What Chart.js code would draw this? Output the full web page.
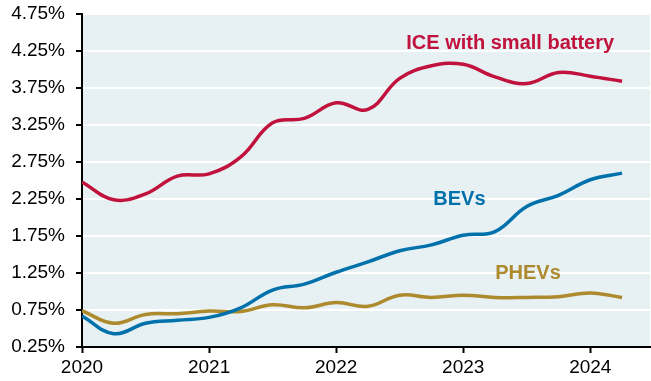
<!DOCTYPE html>
<html>
<head>
<meta charset="utf-8">
<script src="https://cdn.jsdelivr.net/npm/chart.js@4"></script>
<style>
  html, body { margin: 0; padding: 0; background: #fff; }
  #wrap { width: 651px; height: 381px; }
</style>
</head>
<body>
<div id="wrap"><canvas id="shareChart"></canvas></div>
<script>
// quarters (year fraction) and series values, % share
const quarters = [2020, 2020.25, 2020.5, 2020.75, 2021, 2021.25, 2021.5, 2021.75,
  2022, 2022.25, 2022.5, 2022.75, 2023, 2023.25, 2023.5, 2023.75, 2024, 2024.25];
const iceSmallBattery = [2.48, 2.24, 2.32, 2.56, 2.59, 2.82, 3.28, 3.34,
  3.55, 3.46, 3.88, 4.05, 4.07, 3.9, 3.81, 3.96, 3.91, 3.84];
const bevs = [0.67, 0.43, 0.57, 0.61, 0.65, 0.78, 1.02, 1.1,
  1.26, 1.4, 1.55, 1.63, 1.76, 1.81, 2.15, 2.3, 2.51, 2.6];
const phevs = [0.74, 0.57, 0.69, 0.7, 0.735, 0.73, 0.82, 0.78,
  0.85, 0.8, 0.95, 0.92, 0.95, 0.92, 0.92, 0.93, 0.98, 0.92];
const yTicks = [0.25, 0.75, 1.25, 1.75, 2.25, 2.75, 3.25, 3.75, 4.25, 4.75];
const xTicks = [2020, 2021, 2022, 2023, 2024];

const seriesLabels = [
  { text: "ICE with small battery", x: 2023.37, y: 4.35, color: "#c0123c" },
  { text: "BEVs", x: 2022.97, y: 2.25, color: "#0071ab" },
  { text: "PHEVs", x: 2023.51, y: 1.25, color: "#ad8a2d" },
];

function toPoints(values) {
  return values.map((v, i) => ({ x: quarters[i], y: v }));
}

// plot background + in-chart labels
const plotDecor = {
  id: "plotDecor",
  beforeDraw(chart) {
    const { ctx, chartArea: a } = chart;
    ctx.save();
    ctx.fillStyle = "#e7f0f3";
    ctx.fillRect(a.left, a.top, a.right - a.left, a.bottom - a.top);
    ctx.restore();
  },
  afterDatasetsDraw(chart) {
    const { ctx, scales } = chart;
    ctx.save();
    ctx.font = "bold 20px 'Liberation Sans', Arial, sans-serif";
    ctx.textAlign = "center";
    ctx.textBaseline = "middle";
    seriesLabels.forEach((l) => {
      ctx.fillStyle = l.color;
      ctx.fillText(l.text, scales.x.getPixelForValue(l.x), scales.y.getPixelForValue(l.y));
    });
    ctx.restore();
  },
};

function lineSet(label, values, color) {
  return {
    label: label,
    data: toPoints(values),
    borderColor: color,
    borderWidth: 3.5,
    pointRadius: 0,
    tension: 0.4,
    fill: false,
  };
}

new Chart(document.getElementById("shareChart"), {
  type: "line",
  data: {
    datasets: [
      lineSet("ICE with small battery", iceSmallBattery, "#c0123c"),
      lineSet("BEVs", bevs, "#0071ab"),
      lineSet("PHEVs", phevs, "#ad8a2d"),
    ],
  },
  options: {
    responsive: true,
    maintainAspectRatio: false,
    animation: false,
    layout: { padding: { top: 14, right: 1, left: 0, bottom: 0 } },
    plugins: { legend: { display: false }, tooltip: { enabled: false } },
    scales: {
      x: {
        type: "linear",
        min: 2020,
        max: 2024.47,
        afterBuildTicks: (s) => { s.ticks = xTicks.map((v) => ({ value: v })); },
        afterFit: (s) => { s.height = 34; s.paddingLeft = 0; s.paddingRight = 0; },
        grid: { drawOnChartArea: false, tickLength: 6, tickColor: "#000", tickWidth: 2 },
        border: { color: "#000", width: 2 },
        ticks: {
          color: "#000",
          padding: 3,
          maxRotation: 0,
          font: { family: "'Liberation Sans', Arial, sans-serif", size: 19 },
          callback: (v) => String(v),
        },
      },
      y: {
        min: 0.25,
        max: 4.75,
        afterBuildTicks: (s) => { s.ticks = yTicks.map((v) => ({ value: v })); },
        afterFit: (s) => { s.width = 82; s.paddingTop = 0; s.paddingBottom = 0; },
        grid: { color: "#ffffff", lineWidth: 2, tickLength: 6, tickColor: "#000", tickWidth: 2 },
        border: { color: "#000", width: 2 },
        ticks: {
          color: "#000",
          padding: 11,
          font: { family: "'Liberation Sans', Arial, sans-serif", size: 19 },
          callback: (v) => v.toFixed(2) + "%",
        },
      },
    },
  },
  plugins: [plotDecor],
});
</script>
</body>
</html>
